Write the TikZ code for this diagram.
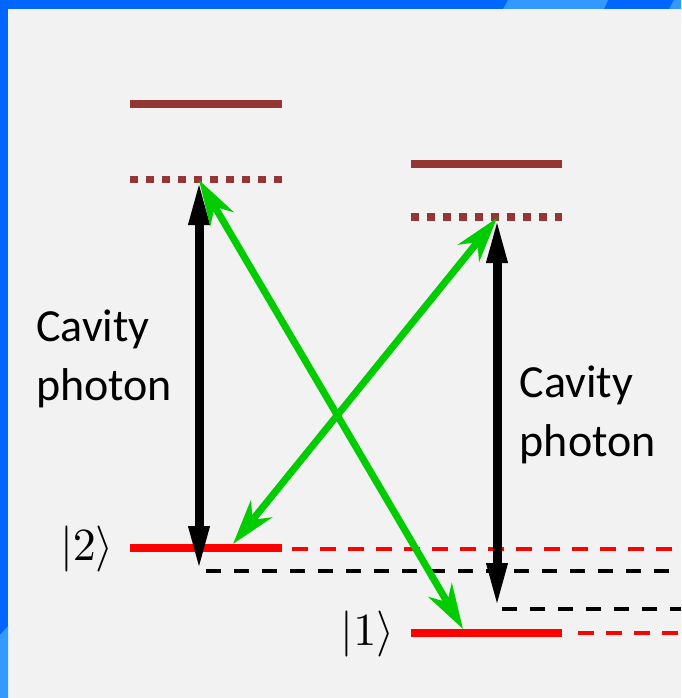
\documentclass[tikz,border=0pt]{standalone}
\usepackage[no-math]{fontspec}
\setmainfont{Carlito}
\usepackage{tikz}
\usetikzlibrary{arrows.meta,positioning}
\usepackage{xcolor}
\definecolor{slidebg}{HTML}{F2F2F2}
\definecolor{framedark}{HTML}{0066FF}
\definecolor{framelight}{HTML}{3399FF}
\definecolor{excited}{HTML}{943634}
\definecolor{groundred}{HTML}{FF0000}
\definecolor{ramangreen}{HTML}{00CC00}

\tikzset{
  energy/.style={draw=excited, line width=7.5pt},
  virt/.style={draw=excited, line width=7.5pt, dash pattern=on 8pt off 8pt},
  ground/.style={draw=groundred, line width=8pt},
  groundext/.style={draw=groundred, line width=4pt, dash pattern=on 16pt off 12pt},
  shifted/.style={draw=black, line width=4pt, dash pattern=on 15pt off 13pt},
  cavity/.style={draw=black, line width=9pt,
    {Triangle[length=45pt,width=19pt]}-{Triangle[length=45pt,width=19pt]}},
  raman/.style={draw=ramangreen, line width=7pt,
    {Stealth[length=45pt,width=27pt,inset=14pt]}-{Stealth[length=45pt,width=27pt,inset=14pt]}},
  caption/.style={font=\fontsize{46}{59}\selectfont, align=left, inner sep=0pt},
  ket/.style={font=\normalsize, scale=4.6, inner sep=0pt}
}

\begin{document}
\begin{tikzpicture}[x=1pt, y=-1pt]
  \useasboundingbox (0,0) rectangle (681,698);
  % slide background and frame
  \fill[slidebg] (0,0) rectangle (681,698);
  \fill[framedark] (0,0) rectangle (681,9);
  \fill[framelight] (503,9) -- (508,0) -- (608,0) -- (604,9) -- cycle;
  \fill[framelight] (669,9) -- (674,0) -- (681,0) -- (681,9) -- cycle;
  \fill[framedark] (0,0) rectangle (8,698);
  \fill[framelight] (0,635) -- (8,626) -- (8,698) -- (0,698) -- cycle;

  % levels of the left system
  \coordinate (upA1) at (130,104);   \coordinate (upA2) at (282,104);
  \coordinate (virA1) at (130,179.5); \coordinate (virA2) at (282,179.5);
  \coordinate (gA1) at (130,548);    \coordinate (gA2) at (282,548);
  \coordinate (gA3) at (292,549);    \coordinate (gA4) at (681,549);
  \coordinate (sA1) at (206,571);    \coordinate (sA2) at (681,571);
  % levels of the right system
  \coordinate (upB1) at (411,164);   \coordinate (upB2) at (562,164);
  \coordinate (virB1) at (411,217);  \coordinate (virB2) at (562,217);
  \coordinate (gB1) at (411,633);    \coordinate (gB2) at (562,633);
  \coordinate (gB3) at (578,633);    \coordinate (gB4) at (681,633);
  \coordinate (sB1) at (502,609);    \coordinate (sB2) at (681,609);

  \draw[energy] (upA1) -- (upA2);
  \draw[virt] (virA1) -- (virA2);
  \draw[ground] (gA1) -- (gA2);
  \draw[groundext] (gA3) -- (gA4);
  \draw[shifted] (sA1) -- (sA2);
  \draw[energy] (upB1) -- (upB2);
  \draw[virt] (virB1) -- (virB2);
  \draw[ground] (gB1) -- (gB2);
  \draw[groundext] (gB3) -- (gB4);
  \draw[shifted] (sB1) -- (sB2);

  % transition end points
  \coordinate (topA) at (199,180);
  \coordinate (botA) at (199,571);
  \coordinate (topB) at (497,218);
  \coordinate (botB) at (497,608);
  \coordinate (landA) at (233,544);
  \coordinate (landB) at (463,629);

  \draw[cavity] (topA) -- (botA);
  \draw[cavity] (topB) -- (botB);
  \draw[raman] (topA) -- (landB);
  \draw[raman] (topB) -- (landA);

  % labels
  \node[ket] (ket2) at (87,549) {$|2\rangle$};
  \node[ket] (ket1) at (367.5,633.5) {$|1\rangle$};
  \node[caption, anchor=base west] (capA) at (36,400) {Cavity\\photon};
  \node[caption, anchor=base west] (capB) at (519.5,456.7) {Cavity\\photon};
\end{tikzpicture}
\end{document}
